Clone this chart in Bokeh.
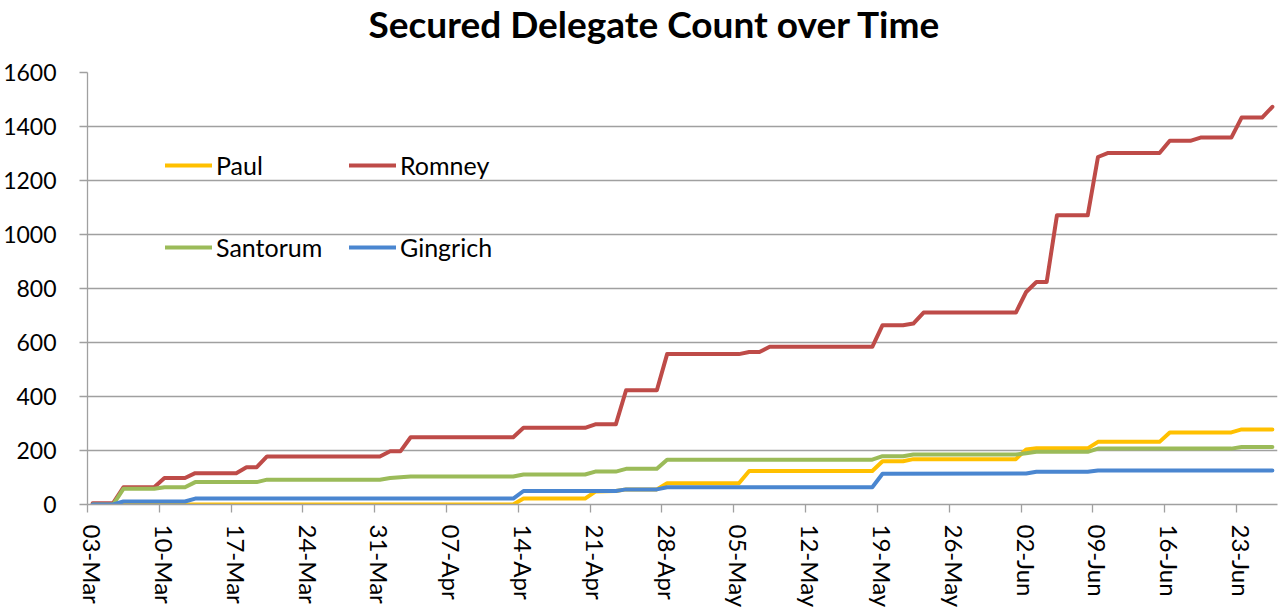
import pandas as pd
from bokeh.plotting import figure
from bokeh.layouts import column
from bokeh.models import Range1d, FixedTicker, DatetimeTickFormatter, Legend, LegendItem, Label
from bokeh.embed import file_html
from bokeh.resources import INLINE

# ---------------- data ----------------
title_text = "Secured Delegate Count over Time"

tick_dates = ["2012-03-03", "2012-03-10", "2012-03-17", "2012-03-24", "2012-03-31",
              "2012-04-07", "2012-04-14", "2012-04-21", "2012-04-28", "2012-05-05",
              "2012-05-12", "2012-05-19", "2012-05-26", "2012-06-02", "2012-06-09",
              "2012-06-16", "2012-06-23"]
y_ticks = [0, 200, 400, 600, 800, 1000, 1200, 1400, 1600]

paul_dates = ["2012-03-03", "2012-04-13", "2012-04-14", "2012-04-20", "2012-04-21",
              "2012-04-23", "2012-04-24", "2012-04-27", "2012-04-28", "2012-05-05",
              "2012-05-06", "2012-05-18", "2012-05-19", "2012-05-21", "2012-05-22",
              "2012-06-01", "2012-06-02", "2012-06-03", "2012-06-08", "2012-06-09",
              "2012-06-15", "2012-06-16", "2012-06-22", "2012-06-23", "2012-06-26"]
paul_values = [0, 0, 22, 22, 48,
               50, 56, 56, 79, 79,
               124, 124, 160, 160, 168,
               168, 204, 208, 208, 232,
               232, 267, 267, 278, 278]

romney_dates = ["2012-03-03", "2012-03-05", "2012-03-06", "2012-03-09", "2012-03-10",
                "2012-03-12", "2012-03-13", "2012-03-17", "2012-03-18", "2012-03-19",
                "2012-03-20", "2012-03-31", "2012-04-01", "2012-04-02", "2012-04-03",
                "2012-04-13", "2012-04-14", "2012-04-20", "2012-04-21", "2012-04-23",
                "2012-04-24", "2012-04-27", "2012-04-28", "2012-05-05", "2012-05-06",
                "2012-05-07", "2012-05-08", "2012-05-18", "2012-05-19", "2012-05-21",
                "2012-05-22", "2012-05-23", "2012-06-01", "2012-06-02", "2012-06-03",
                "2012-06-04", "2012-06-05", "2012-06-08", "2012-06-09", "2012-06-10",
                "2012-06-15", "2012-06-16", "2012-06-18", "2012-06-19", "2012-06-22",
                "2012-06-23", "2012-06-25", "2012-06-26"]
romney_values = [5, 5, 64, 64, 98,
                 98, 116, 116, 138, 138,
                 178, 178, 197, 197, 249,
                 249, 284, 284, 297, 297,
                 423, 423, 557, 557, 565,
                 565, 584, 584, 664, 664,
                 670, 711, 711, 787, 824,
                 824, 1071, 1071, 1287, 1302,
                 1302, 1347, 1347, 1359, 1359,
                 1433, 1433, 1473]

santorum_dates = ["2012-03-03", "2012-03-05", "2012-03-06", "2012-03-09", "2012-03-10",
                  "2012-03-12", "2012-03-13", "2012-03-19", "2012-03-20", "2012-03-31",
                  "2012-04-01", "2012-04-03", "2012-04-13", "2012-04-14", "2012-04-20",
                  "2012-04-21", "2012-04-23", "2012-04-24", "2012-04-27", "2012-04-28",
                  "2012-05-18", "2012-05-19", "2012-05-21", "2012-05-22", "2012-06-01",
                  "2012-06-02", "2012-06-03", "2012-06-08", "2012-06-09", "2012-06-22",
                  "2012-06-23", "2012-06-26"]
santorum_values = [0, 0, 58, 58, 64,
                   64, 83, 83, 92, 92,
                   98, 104, 104, 111, 111,
                   122, 122, 132, 132, 166,
                   166, 179, 179, 185, 185,
                   190, 195, 195, 207, 207,
                   213, 213]

gingrich_dates = ["2012-03-03", "2012-03-05", "2012-03-06", "2012-03-12", "2012-03-13",
                  "2012-04-13", "2012-04-14", "2012-04-23", "2012-04-24", "2012-04-27",
                  "2012-04-28", "2012-05-18", "2012-05-19", "2012-06-02", "2012-06-03",
                  "2012-06-08", "2012-06-09", "2012-06-26"]
gingrich_values = [0, 0, 11, 11, 22,
                   22, 50, 50, 56, 56,
                   64, 64, 114, 115, 121,
                   121, 126, 126]

series_names = ["Paul", "Romney", "Santorum", "Gingrich"]
series_colors = ["#FFC000", "#BE4B48", "#9BBB59", "#4A86D0"]

# ---------------- title strip ----------------
TITLE_H = 50
tf = figure(width=1278, height=TITLE_H, x_range=Range1d(0, 1), y_range=Range1d(0, 1),
            output_backend="svg", toolbar_location=None,
            x_axis_location=None, y_axis_location=None, min_border=0)
tf.outline_line_color = None
tf.xgrid.visible = False
tf.ygrid.visible = False
tf.title.visible = False
tf.add_layout(Label(x=281, y=27, x_units="screen", y_units="screen",
                    text=title_text, text_font="Lato", text_font_style="bold",
                    text_font_size="37px", text_color="#000000",
                    text_align="left", text_baseline="alphabetic"))

# ---------------- main chart ----------------
start = pd.Timestamp(paul_dates[0]) - pd.Timedelta(hours=12)
end = pd.Timestamp(paul_dates[-1]) + pd.Timedelta(hours=12)

p = figure(width=1278, height=616 - TITLE_H, x_axis_type="datetime",
           x_range=Range1d(start=start, end=end), y_range=Range1d(0, 1600),
           output_backend="svg", toolbar_location=None,
           min_border_left=85, min_border_right=1, min_border_top=72 - TITLE_H,
           min_border_bottom=112)
p.outline_line_color = None
p.background_fill_color = "white"
p.border_fill_color = "white"
p.title.visible = False

gray = "#A0A0A0"

ms = lambda s: pd.Timestamp(s).value // 10**6
half_day = 12 * 3600 * 1000
p.xaxis.ticker = FixedTicker(ticks=[ms(t) for t in tick_dates],
                             minor_ticks=[ms(t) - half_day for t in tick_dates])
fmt = "%d-%b"
p.xaxis.formatter = DatetimeTickFormatter(microseconds=fmt, milliseconds=fmt, seconds=fmt,
                                          minsec=fmt, minutes=fmt, hourmin=fmt, hours=fmt,
                                          days=fmt, months=fmt, years=fmt)
p.xaxis.axis_line_color = gray
p.xaxis.axis_line_width = 1.3
p.xaxis.major_tick_line_color = None
p.xaxis.major_tick_out = 8
p.xaxis.major_tick_in = 0
p.xaxis.minor_tick_line_color = gray
p.xaxis.minor_tick_line_width = 1.3
p.xaxis.minor_tick_out = 8
p.xaxis.minor_tick_in = 0
p.xaxis.major_label_orientation = "vertical"
p.xaxis.major_label_text_font = "Lato"
p.xaxis.major_label_text_font_size = "24px"
p.xaxis.major_label_text_color = "#000000"
p.xaxis.major_label_standoff = 12

p.yaxis.ticker = FixedTicker(ticks=y_ticks)
p.yaxis.axis_line_color = gray
p.yaxis.axis_line_width = 1.3
p.yaxis.major_tick_line_color = gray
p.yaxis.major_tick_line_width = 1.3
p.yaxis.major_tick_out = 8
p.yaxis.major_tick_in = 0
p.yaxis.minor_tick_line_color = None
p.yaxis.major_label_text_font = "Lato"
p.yaxis.major_label_text_font_size = "23px"
p.yaxis.major_label_text_color = "#000000"
p.yaxis.major_label_standoff = 23

p.xgrid.visible = False
p.ygrid.grid_line_color = gray
p.ygrid.grid_line_width = 1.3

all_dates = [paul_dates, romney_dates, santorum_dates, gingrich_dates]
all_values = [paul_values, romney_values, santorum_values, gingrich_values]
renderers = []
for dts, vals, col in zip(all_dates, all_values, series_colors):
    r = p.line(pd.to_datetime(dts), vals, line_color=col, line_width=4,
               line_join="round", line_cap="round")
    renderers.append(r)

def make_legend(idx, loc):
    items = [LegendItem(label=series_names[i], renderers=[renderers[i]]) for i in idx]
    leg = Legend(items=items, orientation="horizontal", location=loc,
                 padding=0, margin=0, spacing=0, border_line_color=None,
                 background_fill_alpha=0, glyph_width=47, glyph_height=26,
                 label_width=133, label_height=26, label_standoff=4,
                 label_text_font="Lato", label_text_font_size="25px",
                 label_text_color="#000000")
    return leg

p.add_layout(make_legend([0, 1], (78, 324)), "center")
p.add_layout(make_legend([2, 3], (78, 242)), "center")

layout = column(tf, p, spacing=0)
open("out.html", "w").write(file_html(layout, INLINE))
